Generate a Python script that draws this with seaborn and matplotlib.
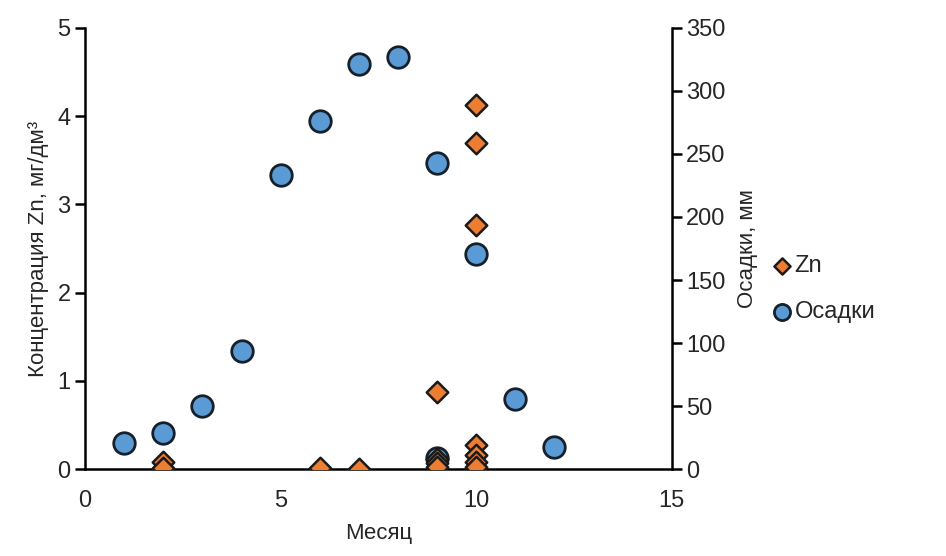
import numpy as np
import pandas as pd
import matplotlib
matplotlib.use("Agg")
import matplotlib.pyplot as plt
import seaborn as sns

# Zn concentration, mg/dm3, by month
zn_month = [2, 2, 6, 7, 9, 9, 9, 9, 10, 10, 10, 10, 10, 10, 10]
zn_value = [0.08, 0.01, 0.01, 0.0, 0.88, 0.12, 0.07, 0.02, 4.13, 3.70, 2.77, 0.27, 0.16, 0.08, 0.02]

# precipitation, mm, by month
rain_month = [1, 2, 3, 4, 5, 6, 7, 8, 9, 9, 10, 11, 12]
rain_value = [21, 29, 50, 94, 233, 276, 321, 327, 243, 9, 171, 56, 18]

x_ticks = [0, 5, 10, 15]
left_ticks = [0, 1, 2, 3, 4, 5]
right_ticks = [0, 50, 100, 150, 200, 250, 300, 350]

sns.set_style("white")
plt.rcParams['font.family'] = ['Liberation Sans', 'DejaVu Sans']

zn_df = pd.DataFrame({"month": zn_month, "zn": zn_value})
rain_df = pd.DataFrame({"month": rain_month, "rain": rain_value})

fig = plt.figure(figsize=(9.46, 5.56), dpi=100)
ax = fig.add_axes([0.090, 0.156, 0.620, 0.794])
ax2 = ax.twinx()

sns.scatterplot(data=rain_df, x="month", y="rain", ax=ax2, marker="o", s=240,
                color="#5B9BD5", edgecolor="#15202b", linewidth=2, label="Осадки", zorder=2)
sns.scatterplot(data=zn_df, x="month", y="zn", ax=ax, marker="D", s=120,
                color="#ED7D31", edgecolor="#1a1a1a", linewidth=1.8, label="Zn", zorder=3)

# draw the Zn axes above the twin axes so diamonds sit on top
ax.set_zorder(ax2.get_zorder() + 1)
ax.patch.set_visible(False)

ax.set_xlim(0, 15)
ax.set_ylim(0, 5)
ax2.set_ylim(0, 350)
ax.set_xticks(x_ticks)
ax.set_yticks(left_ticks)
ax2.set_yticks(right_ticks)

for a in (ax, ax2):
    a.spines["top"].set_visible(False)
    for s in ("left", "right", "bottom"):
        a.spines[s].set_color("black")
        a.spines[s].set_linewidth(1.8)
    a.tick_params(direction="out", length=7, width=1.8, colors="black",
                  labelsize=17, labelcolor="#262626")
ax.spines["right"].set_visible(False)
ax2.spines["left"].set_visible(False)
ax2.spines["bottom"].set_visible(False)
ax.tick_params(axis="x", pad=8)

ax.set_xlabel("Месяц", fontsize=16, color="#262626", labelpad=8)
ax.set_ylabel("Концентрация Zn, мг/дм³", fontsize=16, color="#262626", labelpad=6)
ax2.set_ylabel("Осадки, мм", fontsize=16, color="#262626", labelpad=8)

h1, l1 = ax.get_legend_handles_labels()
h2, l2 = ax2.get_legend_handles_labels()
ax.get_legend().remove()
ax2.get_legend().remove()
fig.legend(h1 + h2, l1 + l2, loc="center left", bbox_to_anchor=(0.79, 0.48),
           frameon=False, fontsize=17, handletextpad=0.0, labelspacing=1.0,
           markerscale=0.75, handlelength=1.1)

fig.savefig("out.png", dpi=100)
